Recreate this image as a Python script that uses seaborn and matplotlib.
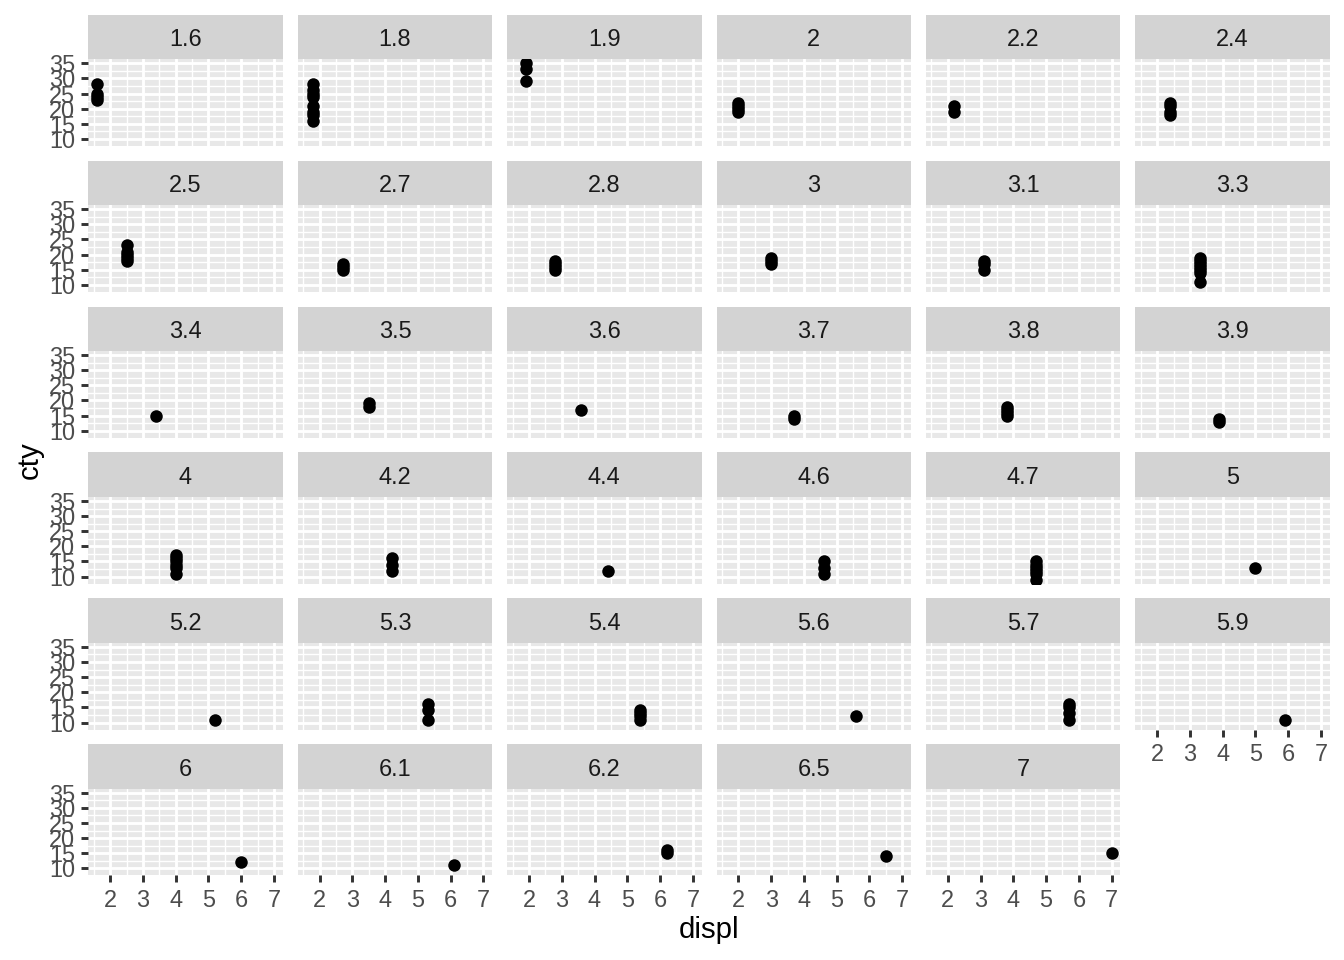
import numpy as np
import pandas as pd
import matplotlib
matplotlib.use("Agg")
import matplotlib.pyplot as plt
from matplotlib.patches import Rectangle
import seaborn as sns

# distinct (displ, cty) points of each panel, one line per panel
displ = [1.6, 1.6, 1.6, 1.6,
         1.8, 1.8, 1.8, 1.8, 1.8, 1.8, 1.8, 1.8,
         1.9, 1.9, 1.9,
         2.0, 2.0, 2.0, 2.0,
         2.2, 2.2,
         2.4, 2.4, 2.4, 2.4,
         2.5, 2.5, 2.5, 2.5, 2.5,
         2.7, 2.7, 2.7,
         2.8, 2.8, 2.8, 2.8,
         3.0, 3.0, 3.0,
         3.1, 3.1, 3.1,
         3.3, 3.3, 3.3, 3.3, 3.3, 3.3, 3.3,
         3.4,
         3.5, 3.5,
         3.6,
         3.7, 3.7,
         3.8, 3.8, 3.8, 3.8,
         3.9, 3.9,
         4.0, 4.0, 4.0, 4.0, 4.0, 4.0,
         4.2, 4.2, 4.2,
         4.4,
         4.6, 4.6, 4.6,
         4.7, 4.7, 4.7, 4.7, 4.7, 4.7,
         5.0,
         5.2,
         5.3, 5.3, 5.3,
         5.4, 5.4, 5.4, 5.4,
         5.6,
         5.7, 5.7, 5.7, 5.7,
         5.9,
         6.0,
         6.1,
         6.2, 6.2,
         6.5,
         7.0]
cty = [23, 24, 25, 28,
       16, 18, 19, 21, 24, 25, 26, 28,
       29, 33, 35,
       19, 20, 21, 22,
       19, 21,
       18, 19, 21, 22,
       18, 19, 20, 21, 23,
       15, 16, 17,
       15, 16, 17, 18,
       17, 18, 19,
       15, 17, 18,
       11, 14, 15, 16, 17, 18, 19,
       15,
       18, 19,
       17,
       14, 15,
       15, 16, 17, 18,
       13, 14,
       11, 13, 14, 15, 16, 17,
       12, 14, 16,
       12,
       11, 13, 15,
       9, 11, 12, 13, 14, 15,
       13,
       11,
       11, 14, 16,
       11, 12, 13, 14,
       12,
       11, 13, 15, 16,
       11,
       12,
       11,
       15, 16,
       14,
       15]

x_ticks = [2, 3, 4, 5, 6, 7]
x_minor = [1.5, 2.5, 3.5, 4.5, 5.5, 6.5]
y_ticks = [10, 15, 20, 25, 30, 35]
y_minor = [12.5, 17.5, 22.5, 27.5, 32.5]

sns.set_theme(style="darkgrid", rc={
    "axes.facecolor": "#E8E8E8",
    "grid.color": "white",
    "axes.edgecolor": "none",
})
plt.rcParams["font.family"] = ["Liberation Sans", "DejaVu Sans"]

df = pd.DataFrame({"displ": displ, "cty": cty})
df["panel"] = df["displ"].map(lambda v: f"{v:g}")
order = [f"{v:g}" for v in sorted(df["displ"].unique())]

g = sns.FacetGrid(df, col="panel", col_order=order, col_wrap=6,
                  sharex=True, sharey=True, despine=False, height=1, aspect=1.4)
g.map_dataframe(sns.scatterplot, x="displ", y="cty", color="black",
                s=22, linewidth=0)

fig = g.figure
fig.set_size_inches(7, 5)
W, H = 1344, 960

# panel geometry in pixels (ggplot facet_wrap look)
left0, col_step, panel_w = 88.3, 209.4, 194.5
top0, row_step, strip_h, panel_h = 14.7, 145.9, 44.6, 86.6

n = len(order)
tick_len = 2.75
for i, ax in enumerate(g.axes.flat):
    r, c = divmod(i, 6)
    ptop = top0 + r * row_step + strip_h
    ax.set_position([(left0 + c * col_step) / W, 1 - (ptop + panel_h) / H,
                     panel_w / W, panel_h / H])
    ax.set_title("")
    ax.set_xlabel("")
    ax.set_ylabel("")
    ax.set_xlim(1.33, 7.27)
    ax.set_ylim(7.7, 36.3)
    ax.set_xticks(x_ticks)
    ax.set_xticks(x_minor, minor=True)
    ax.set_yticks(y_ticks)
    ax.set_yticks(y_minor, minor=True)
    ax.grid(which="major", color="white", linewidth=1.07)
    ax.grid(which="minor", color="white", linewidth=0.53)
    ax.set_axisbelow(True)
    for s in ax.spines.values():
        s.set_visible(False)

    bottom = i + 6 >= n
    left = c == 0
    ax.tick_params(which="minor", length=0)
    ax.tick_params(axis="x", which="major", bottom=bottom, labelbottom=bottom,
                   length=tick_len, width=1.1, color="#333333", pad=2.2,
                   labelsize=8.8, labelcolor="#4D4D4D")
    ax.tick_params(axis="y", which="major", left=left, labelleft=left,
                   length=tick_len, width=1.1, color="#333333", pad=2.2,
                   labelsize=8.8, labelcolor="#4D4D4D")

    # strip
    sh = strip_h / panel_h
    ax.add_patch(Rectangle((0, 1), 1, sh, transform=ax.transAxes,
                           facecolor="#D3D3D3", edgecolor="none", clip_on=False))
    ax.text(0.5, 1 + sh / 2, order[i], transform=ax.transAxes, ha="center",
            va="center_baseline", fontsize=8.8, color="#1A1A1A")

fig.text((left0 + 5 * col_step + panel_w + left0) / 2 / W, 1 - 930 / H, "displ",
         ha="center", va="center", fontsize=11, color="black")
fig.text(30 / W, 1 - (top0 + strip_h + 5 * row_step + strip_h + panel_h) / 2 / H,
         "cty", rotation=90, ha="center", va="center", fontsize=11, color="black")

fig.savefig("out.png", dpi=192, facecolor="white")
